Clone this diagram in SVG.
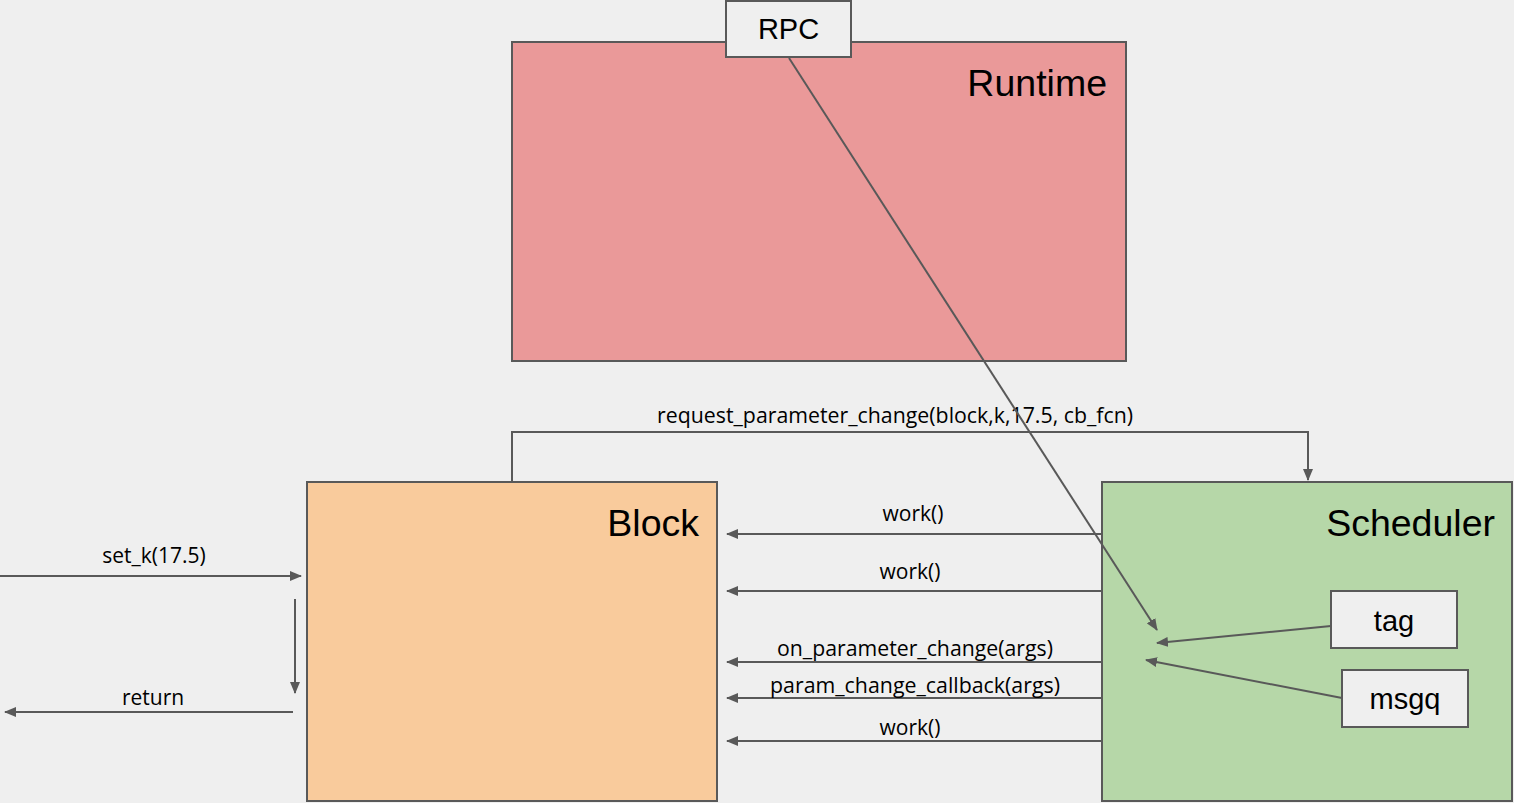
<svg xmlns="http://www.w3.org/2000/svg" width="1514" height="803" viewBox="0 0 1514 803">
  <style>
    .box { stroke: #595959; stroke-width: 2; }
    .title { font-family: "Liberation Sans", Arial, sans-serif; font-size: 37.5px; fill: #000; text-anchor: end; }
    .small { font-family: "Liberation Sans", Arial, sans-serif; font-size: 29px; fill: #000; text-anchor: middle; }
    .lbl { font-family: "Open Sans", "DejaVu Sans", sans-serif; font-size: 21px; fill: #000; text-anchor: middle; }
    .wire { fill: none; stroke: #595959; stroke-width: 2; }
  </style>
  <defs>
    <marker id="arrow" viewBox="0 0 12 10" refX="11" refY="5" markerWidth="6" markerHeight="5" orient="auto" markerUnits="strokeWidth">
      <path d="M0,0 L12,5 L0,10 z" fill="#595959"/>
    </marker>
  </defs>

  <rect width="1514" height="803" fill="#efefef"/>

  <g id="runtime">
    <rect class="box" x="512" y="42" width="614" height="319" fill="#ea9999"/>
    <text class="title" x="1107" y="96">Runtime</text>
  </g>

  <g id="block">
    <rect class="box" x="307" y="482" width="410" height="319" fill="#f9cb9c"/>
    <text class="title" x="699" y="536">Block</text>
  </g>

  <g id="scheduler">
    <rect class="box" x="1102" y="482" width="410" height="319" fill="#b6d7a8"/>
    <text class="title" x="1495" y="536">Scheduler</text>
  </g>

  <g id="connectors">
    <!-- Block -> Scheduler request -->
    <path class="wire" d="M512,482 V432 H1308 V480" marker-end="url(#arrow)"/>
    <text class="lbl" x="895" y="423" textLength="476" lengthAdjust="spacingAndGlyphs">request_parameter_change(block,k,17.5, cb_fcn)</text>

    <!-- Scheduler -> Block calls -->
    <path class="wire" d="M1102,534 H727" marker-end="url(#arrow)"/>
    <text class="lbl" x="913" y="521">work()</text>
    <path class="wire" d="M1102,591 H727" marker-end="url(#arrow)"/>
    <text class="lbl" x="910" y="579">work()</text>
    <path class="wire" d="M1102,662 H727" marker-end="url(#arrow)"/>
    <text class="lbl" x="915" y="656" textLength="276" lengthAdjust="spacingAndGlyphs">on_parameter_change(args)</text>
    <path class="wire" d="M1102,698 H727" marker-end="url(#arrow)"/>
    <text class="lbl" x="915" y="693" textLength="290" lengthAdjust="spacingAndGlyphs">param_change_callback(args)</text>
    <path class="wire" d="M1102,741 H727" marker-end="url(#arrow)"/>
    <text class="lbl" x="910" y="735">work()</text>

    <!-- external call into Block -->
    <path class="wire" d="M0,576 H301" marker-end="url(#arrow)"/>
    <text class="lbl" x="154" y="563">set_k(17.5)</text>
    <path class="wire" d="M295,599 V693" marker-end="url(#arrow)"/>
    <path class="wire" d="M293,712 H5" marker-end="url(#arrow)"/>
    <text class="lbl" x="153" y="705">return</text>

    <!-- inputs into Scheduler -->
    <path class="wire" d="M789,58 L1157,630" marker-end="url(#arrow)"/>
    <path class="wire" d="M1331,626 L1157,643" marker-end="url(#arrow)"/>
    <path class="wire" d="M1342,698 L1146,660" marker-end="url(#arrow)"/>
  </g>

  <g id="rpc">
    <rect class="box" x="726" y="1" width="125" height="56" fill="#efefef"/>
    <text class="small" x="788.5" y="39">RPC</text>
  </g>

  <g id="tag">
    <rect class="box" x="1331" y="591" width="126" height="57" fill="#efefef"/>
    <text class="small" x="1394" y="631">tag</text>
  </g>

  <g id="msgq">
    <rect class="box" x="1342" y="670" width="126" height="57" fill="#efefef"/>
    <text class="small" x="1405" y="709">msgq</text>
  </g>
</svg>
